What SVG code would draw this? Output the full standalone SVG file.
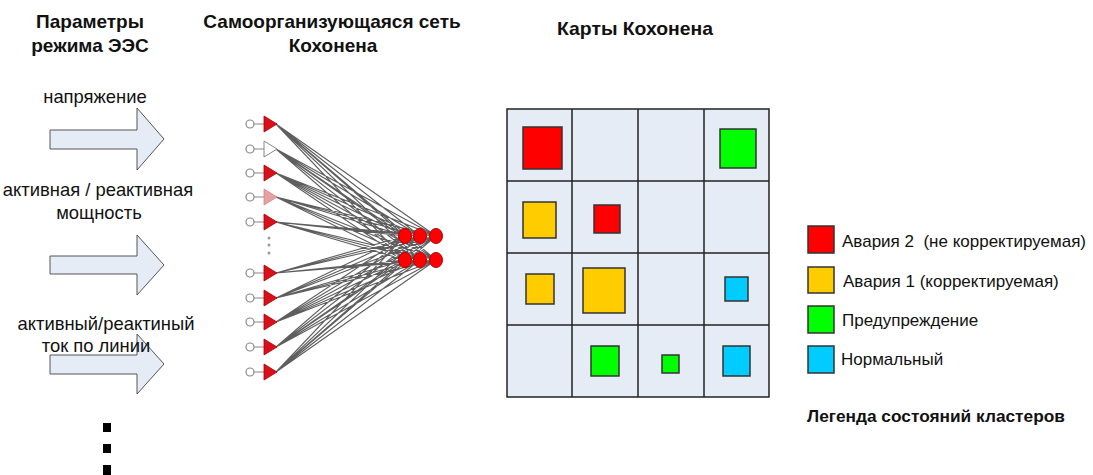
<svg xmlns="http://www.w3.org/2000/svg" width="1093" height="475" viewBox="0 0 1093 475">
<style>
.h{font-family:"Liberation Sans",Arial,sans-serif;font-weight:bold;font-size:19px;fill:#111;text-anchor:middle}
.t{font-family:"Liberation Sans",Arial,sans-serif;font-size:18.4px;fill:#111;text-anchor:middle}
.lg{font-family:"Liberation Sans",Arial,sans-serif;font-size:17px;fill:#111}
.lt{font-family:"Liberation Sans",Arial,sans-serif;font-weight:bold;font-size:17.3px;fill:#111}
.arr{fill:#e6ecf6;stroke:#555;stroke-width:1}
.cell{fill:#e6ecf6;stroke:#222;stroke-width:1.5}
.sq{stroke:#333;stroke-width:1.5}
.in{fill:#fff;stroke:#888;stroke-width:1.2}
.tri{stroke:#a00;stroke-width:0.8}
.out{fill:#f00;stroke:#b00;stroke-width:1}
.w{stroke:#1a1a1a;stroke-width:1.1;stroke-opacity:0.7;fill:none}
</style>
<rect width="1093" height="475" fill="#fff"/>
<g id="headers">
<text class="h" x="90" y="28">Параметры</text>
<text class="h" x="90" y="52">режима ЭЭС</text>
<text class="h" x="332" y="28">Самоорганизующаяся сеть</text>
<text class="h" x="333" y="52">Кохонена</text>
<text class="h" x="635" y="35" textLength="156" lengthAdjust="spacingAndGlyphs">Карты Кохонена</text>
</g>
<g id="inputs">
<polygon class="arr" points="50,130 137,130 137,108 164,139 137,170 137,149 50,149"/>
<polygon class="arr" points="50,256 137,256 137,235 164,265 137,295 137,274 50,274"/>
<polygon class="arr" points="50,355 137,355 137,334 164,364 137,394 137,374 50,374"/>
<text class="t" x="95" y="103">напряжение</text>
<text class="t" x="98" y="196">активная / реактивная</text>
<text class="t" x="99" y="219">мощность</text>
<text class="t" x="106" y="330">активный/реактиный</text>
<text class="t" x="96" y="352">ток по линии</text>
<rect x="103" y="423" width="8" height="9" fill="#000"/>
<rect x="103" y="444" width="8" height="9" fill="#000"/>
<rect x="103" y="465" width="8" height="10" fill="#000"/>
</g>
<g id="connectors">
<g id="weights">
<path class="w" d="M276,124L405,236M276,124L420,236M276,124L436,236M276,124L405,260M276,124L420,260M276,124L436,260
M276,149L405,236M276,149L420,236M276,149L436,236M276,149L405,260M276,149L420,260M276,149L436,260
M276,173L405,236M276,173L420,236M276,173L436,236M276,173L405,260M276,173L420,260M276,173L436,260
M276,197L405,236M276,197L420,236M276,197L436,236M276,197L405,260M276,197L420,260M276,197L436,260
M276,222L405,236M276,222L420,236M276,222L436,236M276,222L405,260M276,222L420,260M276,222L436,260
M276,273L405,236M276,273L420,236M276,273L436,236M276,273L405,260M276,273L420,260M276,273L436,260
M276,298L405,236M276,298L420,236M276,298L436,236M276,298L405,260M276,298L420,260M276,298L436,260
M276,322L405,236M276,322L420,236M276,322L436,236M276,322L405,260M276,322L420,260M276,322L436,260
M276,347L405,236M276,347L420,236M276,347L436,236M276,347L405,260M276,347L420,260M276,347L436,260
M276,372L405,236M276,372L420,236M276,372L436,236M276,372L405,260M276,372L420,260M276,372L436,260"/>
</g>
<path stroke="#888" stroke-width="1.2" d="M254,124H264M254,149H264M254,173H264M254,197H264M254,222H264M254,273H264M254,298H264M254,322H264M254,347H264M254,372H264"/>
</g>
<g id="network">
<g id="input-nodes">
<circle class="in" cx="250" cy="124" r="4"/>
<circle class="in" cx="250" cy="149" r="4"/>
<circle class="in" cx="250" cy="173" r="4"/>
<circle class="in" cx="250" cy="197" r="4"/>
<circle class="in" cx="250" cy="222" r="4"/>
<circle class="in" cx="250" cy="273" r="4"/>
<circle class="in" cx="250" cy="298" r="4"/>
<circle class="in" cx="250" cy="322" r="4"/>
<circle class="in" cx="250" cy="347" r="4"/>
<circle class="in" cx="250" cy="372" r="4"/>
<polygon class="tri" fill="#d8101c" points="264,116 277,124 264,132"/>
<polygon fill="#fff" stroke="#888" stroke-width="1" points="264,141 277,149 264,157"/>
<polygon class="tri" fill="#d8101c" points="264,165 277,173 264,181"/>
<polygon fill="#e8a0a0" stroke="#c88" stroke-width="0.8" points="264,189 277,197 264,205"/>
<polygon class="tri" fill="#d8101c" points="264,214 277,222 264,230"/>
<polygon class="tri" fill="#d8101c" points="264,265 277,273 264,281"/>
<polygon class="tri" fill="#d8101c" points="264,290 277,298 264,306"/>
<polygon class="tri" fill="#d8101c" points="264,314 277,322 264,330"/>
<polygon class="tri" fill="#d8101c" points="264,339 277,347 264,355"/>
<polygon class="tri" fill="#d8101c" points="264,364 277,372 264,380"/>
<circle cx="269" cy="238" r="1.5" fill="#999"/>
<circle cx="269" cy="245" r="1.5" fill="#999"/>
<circle cx="269" cy="253" r="1.5" fill="#999"/>
</g>
<g id="output-nodes">
<ellipse class="out" cx="405" cy="236" rx="6.5" ry="7.5"/>
<ellipse class="out" cx="420" cy="236" rx="6.5" ry="7.5"/>
<ellipse class="out" cx="436" cy="236" rx="6.5" ry="7.5"/>
<ellipse class="out" cx="405" cy="260" rx="6.5" ry="7.5"/>
<ellipse class="out" cx="420" cy="260" rx="6.5" ry="7.5"/>
<ellipse class="out" cx="436" cy="260" rx="6.5" ry="7.5"/>
</g>
</g>
<g id="kohonen-map">
<rect class="cell" x="507" y="109" width="262" height="288"/>
<path stroke="#222" stroke-width="1.5" d="M572,109V397M638,109V397M704,109V397M507,181H769M507,253H769M507,325H769"/>
<rect class="sq" fill="#f00" x="523" y="127" width="39" height="42"/>
<rect class="sq" fill="#0f0" x="720" y="129" width="36" height="39"/>
<rect class="sq" fill="#fc0" x="523" y="202" width="33" height="36"/>
<rect class="sq" fill="#f00" x="594" y="205" width="26" height="28"/>
<rect class="sq" fill="#fc0" x="526" y="274" width="28" height="30"/>
<rect class="sq" fill="#fc0" x="583" y="268" width="42" height="45"/>
<rect class="sq" fill="#0cf" x="725" y="277" width="23" height="24"/>
<rect class="sq" fill="#0f0" x="591" y="346" width="28" height="30"/>
<rect class="sq" fill="#0f0" x="662" y="355" width="17" height="18"/>
<rect class="sq" fill="#0cf" x="723" y="346" width="27" height="30"/>
</g>
<g id="legend">
<rect class="sq" fill="#f00" x="808" y="226" width="26" height="27"/>
<text class="lg" x="842" y="247">Авария 2 &#160;(не корректируемая)</text>
<rect class="sq" fill="#fc0" x="808" y="267" width="26" height="26"/>
<text class="lg" x="843" y="287">Авария 1 (корректируемая)</text>
<rect class="sq" fill="#0f0" x="808" y="306" width="26" height="27"/>
<text class="lg" x="842" y="326">Предупреждение</text>
<rect class="sq" fill="#0cf" x="808" y="346" width="26" height="27"/>
<text class="lg" x="841" y="365">Нормальный</text>
<text class="lt" x="807" y="422">Легенда состояний кластеров</text>
</g>
</svg>
